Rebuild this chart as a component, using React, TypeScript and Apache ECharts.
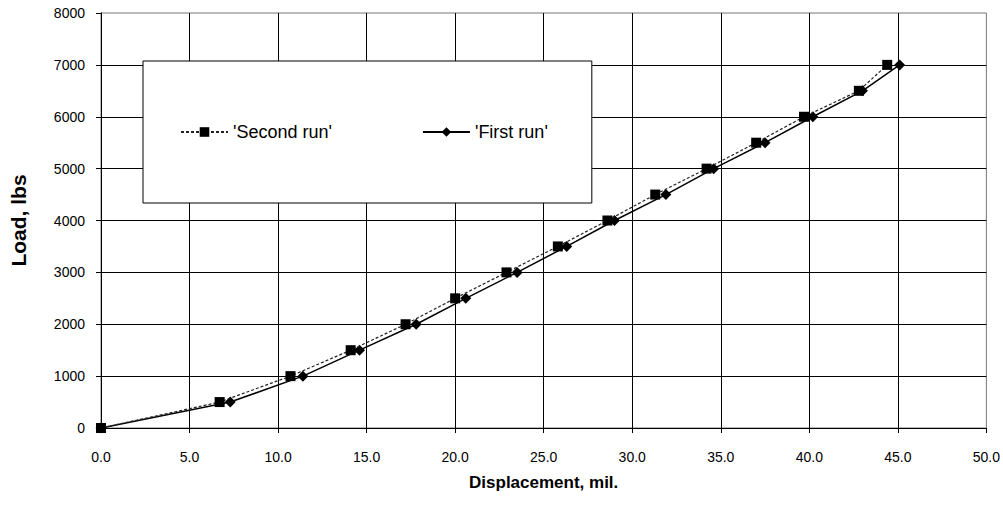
import React, { useEffect, useRef } from "react";
import * as echarts from "echarts";

const loads = [0, 500, 1000, 1500, 2000, 2500, 3000, 3500, 4000, 4500, 5000, 5500, 6000, 6500, 7000];
const secondRunDisp = [0, 6.7, 10.7, 14.1, 17.2, 20.0, 22.9, 25.8, 28.6, 31.3, 34.2, 37.0, 39.7, 42.8, 44.4];
const firstRunDisp = [0, 7.3, 11.4, 14.6, 17.8, 20.6, 23.5, 26.3, 29.0, 31.9, 34.6, 37.5, 40.2, 43.0, 45.1];
const seriesNames = ["'Second run'", "'First run'"];
const xTitle = "Displacement, mil.";
const yTitle = "Load, lbs";

const FONT = "'Liberation Sans', Arial, Helvetica, sans-serif";

export default function App() {
  const ref = useRef<HTMLDivElement>(null);
  useEffect(() => {
    if (!ref.current) return;
    const chart = echarts.init(ref.current, undefined, { renderer: "svg" });
    const pair = (xs: number[]) => xs.map((x, i) => [x, loads[i]]);
    chart.setOption({
      animation: false,
      backgroundColor: "#fff",
      textStyle: { fontFamily: FONT },
      grid: {
        left: 100,
        right: 16,
        top: 13,
        bottom: 80,
        show: true,
        borderColor: "#777",
        borderWidth: 1,
      },
      legend: {
        data: seriesNames,
        left: 143,
        top: 61,
        orient: "horizontal",
        padding: [62, 44, 62, 37],
        itemGap: 90,
        itemWidth: 47,
        itemHeight: 12,
        backgroundColor: "#fff",
        borderColor: "#000",
        borderWidth: 1,
        borderRadius: 0,
        textStyle: { fontFamily: FONT, fontSize: 18, color: "#000" },
      },
      xAxis: {
        type: "value",
        min: 0,
        max: 50,
        interval: 5,
        name: xTitle,
        nameLocation: "middle",
        nameGap: 46,
        nameTextStyle: { fontFamily: FONT, fontSize: 17, fontWeight: "bold", color: "#000" },
        axisLine: { show: true, onZero: false, lineStyle: { color: "#000", width: 1 } },
        axisTick: { show: true, length: 5, lineStyle: { color: "#000" } },
        axisLabel: {
          margin: 22,
          fontFamily: FONT,
          fontSize: 14,
          color: "#000",
          formatter: (v: number) => v.toFixed(1),
        },
        splitLine: { show: true, showMaxLine: false, lineStyle: { color: "#000", width: 1 } },
      },
      yAxis: {
        type: "value",
        min: 0,
        max: 8000,
        interval: 1000,
        name: yTitle,
        nameLocation: "middle",
        nameGap: 72,
        nameTextStyle: { fontFamily: FONT, fontSize: 21, fontWeight: "bold", color: "#000" },
        axisLine: { show: true, onZero: false, lineStyle: { color: "#000", width: 1 } },
        axisTick: { show: true, length: 5, lineStyle: { color: "#000" } },
        axisLabel: {
          margin: 16,
          fontFamily: FONT,
          fontSize: 14,
          color: "#000",
          formatter: (v: number) => String(v),
        },
        splitLine: { show: true, showMaxLine: false, lineStyle: { color: "#000", width: 1 } },
      },
      series: [
        {
          name: seriesNames[0],
          type: "line",
          data: pair(secondRunDisp),
          symbol: "rect",
          symbolSize: 10,
          showAllSymbol: true,
          itemStyle: { color: "#000" },
          lineStyle: { color: "#222", width: 1.2, type: [3, 2] },
          z: 3,
        },
        {
          name: seriesNames[1],
          type: "line",
          data: pair(firstRunDisp),
          symbol: "diamond",
          symbolSize: 11,
          showAllSymbol: true,
          itemStyle: { color: "#000" },
          lineStyle: { color: "#000", width: 1.5, type: "solid" },
          z: 2,
        },
      ],
    });
    return () => chart.dispose();
  }, []);
  return (
    <div
      ref={ref}
      style={{ position: "fixed", left: 0, top: 0, width: 1003, height: 508, background: "#fff" }}
    />
  );
}
